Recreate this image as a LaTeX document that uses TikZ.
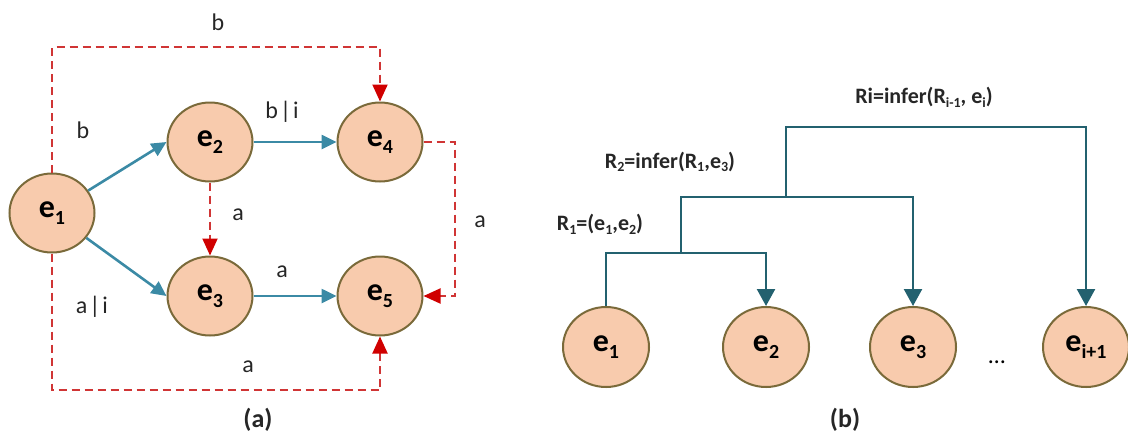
\documentclass[tikz,border=0pt]{standalone}
\usepackage{fontspec}
\setmainfont{Carlito}
\usetikzlibrary{arrows.meta,shapes.geometric}
\definecolor{nodefill}{HTML}{F8CBAD}
\definecolor{nodeline}{HTML}{7A6A3A}
\definecolor{blueline}{HTML}{3B8AA5}
\definecolor{darkblue}{HTML}{23616F}
\definecolor{redline}{HTML}{D03535}
\definecolor{redtip}{HTML}{D00000}
\newcommand\esub[1]{\raisebox{-0.45ex}{\fontsize{10}{10}\selectfont #1}}
\newcommand\lsub[1]{\raisebox{-0.35ex}{\fontsize{7}{7}\selectfont #1}}
\tikzset{
  evt/.style={ellipse,draw=nodeline,line width=1pt,fill=nodefill,inner sep=0pt,
    minimum width=42.5pt,minimum height=39.5pt,font=\fontsize{16}{16}\selectfont\bfseries},
  bevt/.style={evt,minimum width=43pt,minimum height=40pt},
  bluearrow/.style={draw=blueline,line width=1.3pt,-{Triangle[length=7.5pt,width=7pt,fill=blueline]}},
  reddash/.style={draw=redline,line width=1pt,dash pattern=on 4pt off 2.5pt,
    -{Triangle[length=8.5pt,width=7.5pt,fill=redtip,color=redtip]}},
  tree/.style={draw=darkblue,line width=1.2pt,-{Triangle[length=8.5pt,width=9pt,fill=darkblue]}},
  lab/.style={font=\fontsize{12}{12}\selectfont,text=black!85},
  rlab/.style={font=\fontsize{11}{11}\selectfont\bfseries,text=black!85},
  captext/.style={font=\fontsize{13}{13}\selectfont\bfseries,text=black!85}
}
\begin{document}
\begin{tikzpicture}[x=0.5pt,y=-0.5pt]
\useasboundingbox (0,0) rectangle (1128,440);
% ---------- (a) ----------
\node[evt] (e1) at (52,213) {e\esub{1}};
\node[evt] (e2) at (210,142) {e\esub{2}};
\node[evt] (e3) at (210,296) {e\esub{3}};
\node[evt] (e4) at (380,142) {e\esub{4}};
\node[evt] (e5) at (380,296) {e\esub{5}};
\coordinate (topy) at (0,47);
\coordinate (boty) at (0,390);
\coordinate (rightx) at (455,0);

\draw[bluearrow] (e1) -- (e2.west);
\draw[bluearrow] (e1) -- (e3.west);
\draw[bluearrow] (e2) -- (e4);
\draw[bluearrow] (e3) -- (e5);

\draw[reddash] (e1.north) -- (e1.north |- topy) -| (e4.north);
\draw[reddash] (e1.south) -- (e1.south |- boty) -| (e5.south);
\draw[reddash] (e4.east) -- (e4.east -| rightx) |- (e5.east);
\draw[reddash] (e2.south) -- (e3.north);

\node[lab] (lb1) at (218,22) {b};
\node[lab] (lb2) at (83,130) {b};
\node[lab] (lbi) at (282,112) {b\kern1pt|\kern1pt i};
\node[lab] (la1) at (238,215) {a};
\node[lab] (la2) at (480,222) {a};
\node[lab] (la3) at (282,272) {a};
\node[lab] (lai) at (92,307) {a\kern1pt|\kern1pt i};
\node[lab] (la4) at (248,367) {a};
\node[captext] (capa) at (258,420) {(a)};

% ---------- (b) ----------
\node[bevt] (b1) at (606,347) {e\esub{1}};
\node[bevt] (b2) at (766,347) {e\esub{2}};
\node[bevt] (b3) at (913,347) {e\esub{3}};
\node[bevt] (b4) at (1086,347) {e\esub{i+1}};
\node[font=\fontsize{12}{12}\selectfont,anchor=base] (dots) at (997,363) {\dots};

\coordinate (r1y) at (0,253);
\coordinate (r2y) at (0,197);
\coordinate (r3y) at (0,127);
\coordinate (c1) at (681,253);
\coordinate (c2) at (786,197);

\draw[tree] (b1.north) -- (b1.north |- r1y) -| (b2.north);
\draw[tree] (c1) -- (c1 |- r2y) -| (b3.north);
\draw[tree] (c2) -- (c2 |- r3y) -| (b4.north);

\node[rlab] (r1) at (600,224) {R\lsub{1}=(e\lsub{1},e\lsub{2})};
\node[rlab] (r2) at (670,162) {R\lsub{2}=infer(R\lsub{1},e\lsub{3})};
\node[rlab] (ri) at (924,97) {Ri=infer(R\lsub{i-1}, e\lsub{i})};
\node[captext] (capb) at (845,420) {(b)};
\end{tikzpicture}
\end{document}
